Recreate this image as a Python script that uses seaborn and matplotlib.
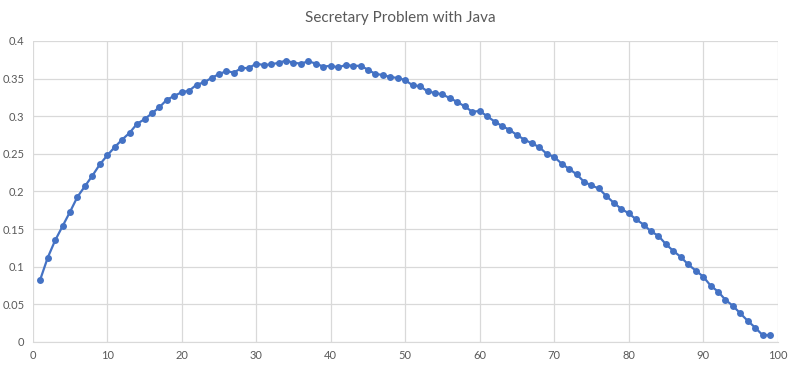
import numpy as np
import pandas as pd
import matplotlib
matplotlib.use('Agg')
import matplotlib.pyplot as plt
import seaborn as sns
from matplotlib.ticker import FuncFormatter, MultipleLocator

# values (cutoff 1..99)
cutoff = list(range(1, 100))
prob = [
    0.083, 0.112, 0.135, 0.154, 0.173, 0.193, 0.207, 0.221, 0.236, 0.248,
    0.259, 0.269, 0.278, 0.290, 0.296, 0.304, 0.312, 0.322, 0.327, 0.332,
    0.334, 0.342, 0.345, 0.351, 0.356, 0.360, 0.358, 0.364, 0.364, 0.370,
    0.368, 0.369, 0.371, 0.374, 0.371, 0.370, 0.373, 0.370, 0.366, 0.367,
    0.365, 0.368, 0.367, 0.367, 0.362, 0.356, 0.355, 0.352, 0.351, 0.348,
    0.341, 0.340, 0.333, 0.331, 0.329, 0.324, 0.319, 0.313, 0.306, 0.307,
    0.300, 0.293, 0.287, 0.282, 0.275, 0.269, 0.264, 0.259, 0.250, 0.246,
    0.237, 0.230, 0.223, 0.213, 0.208, 0.204, 0.194, 0.185, 0.177, 0.171,
    0.163, 0.156, 0.147, 0.141, 0.130, 0.121, 0.113, 0.103, 0.095, 0.087,
    0.075, 0.067, 0.056, 0.048, 0.038, 0.028, 0.019, 0.009, 0.009,
]

df = pd.DataFrame({'cutoff': cutoff, 'prob': prob})

sns.set_style('white')
plt.rcParams['font.family'] = ['Lato', 'DejaVu Sans']

fig = plt.figure(figsize=(8, 3.66), dpi=100)
ax = fig.add_axes([0.041, 0.0656, 0.931, 0.8224])

sns.lineplot(data=df, x='cutoff', y='prob', ax=ax, color='#4472C4',
             linewidth=1.6, marker='o', markersize=5, markeredgewidth=0)

ax.set_xlim(0, 100)
ax.set_ylim(0, 0.4)
ax.xaxis.set_major_locator(MultipleLocator(10))
ax.yaxis.set_major_locator(MultipleLocator(0.05))
ax.yaxis.set_major_formatter(FuncFormatter(lambda v, p: '%g' % round(v, 2)))
ax.grid(True, color='#d9d9d9', linewidth=0.9)
ax.set_axisbelow(True)
for s in ['top', 'right', 'left']:
    ax.spines[s].set_visible(False)
ax.spines['bottom'].set_color('#d9d9d9')
ax.tick_params(length=0, labelsize=8, labelcolor='#595959', pad=6)
ax.set_xlabel('')
ax.set_ylabel('')

fig.text(0.5, 0.952, 'Secretary Problem with Java', ha='center', va='center',
         fontsize=11, color='#595959')

fig.savefig('out.png', dpi=100)
